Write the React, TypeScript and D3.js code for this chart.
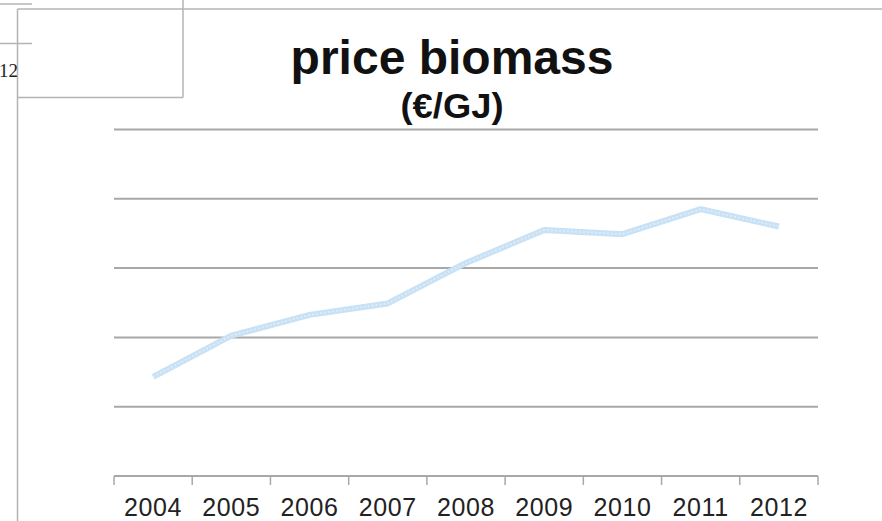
import React, { useRef, useEffect } from 'react';
import * as d3 from 'd3';

const years = ['2004', '2005', '2006', '2007', '2008', '2009', '2010', '2011', '2012'];
const prices = [2.86, 4.05, 4.65, 4.98, 6.15, 7.1, 6.98, 7.7, 7.2];
const gridTicks = [2, 4, 6, 8, 10];

const width = 882;
const height = 521;

function drawChart(svgEl: SVGSVGElement) {
  const svg = d3.select(svgEl);
  svg.selectAll('*').remove();

  const margin = { top: 129.5, right: 64, bottom: 45, left: 114 };

  const xScale = d3
    .scaleBand<string>()
    .domain(years)
    .range([margin.left, width - margin.right])
    .padding(0);
  const yScale = d3
    .scaleLinear()
    .domain([0, 10])
    .range([height - margin.bottom, margin.top]);

  // slide frame leftovers
  const frame = svg.append('g').attr('fill', 'none').attr('stroke', '#b4b4b4').attr('stroke-width', 1.5);
  frame.append('line').attr('x1', 0).attr('x2', 32).attr('y1', 4).attr('y2', 4);
  frame.append('line').attr('x1', 0).attr('x2', 32).attr('y1', 43.5).attr('y2', 43.5);
  frame.append('line').attr('x1', 17.5).attr('x2', width).attr('y1', 9).attr('y2', 9);
  frame.append('line').attr('x1', 17.5).attr('x2', 17.5).attr('y1', 9).attr('y2', height);
  frame.append('line').attr('x1', 183).attr('x2', 183).attr('y1', 0).attr('y2', 97.5);
  frame.append('line').attr('x1', 17.5).attr('x2', 183).attr('y1', 97.5).attr('y2', 97.5);
  svg
    .append('text')
    .attr('x', -1)
    .attr('y', 77)
    .attr('font-family', '"Liberation Serif", "DejaVu Serif", serif')
    .attr('font-size', 19)
    .attr('fill', '#222')
    .text('12');

  // title
  svg
    .append('text')
    .attr('x', 452)
    .attr('y', 74)
    .attr('text-anchor', 'middle')
    .attr('font-family', '"Liberation Sans", Arial, sans-serif')
    .attr('font-weight', 'bold')
    .attr('font-size', 48)
    .attr('fill', '#111')
    .text('price biomass');
  svg
    .append('text')
    .attr('x', 452)
    .attr('y', 118)
    .attr('text-anchor', 'middle')
    .attr('font-family', '"Liberation Sans", Arial, sans-serif')
    .attr('font-weight', 'bold')
    .attr('font-size', 35)
    .attr('textLength', 103)
    .attr('lengthAdjust', 'spacingAndGlyphs')
    .attr('fill', '#111')
    .text('(€/GJ)');

  // gridlines
  svg
    .append('g')
    .selectAll('line')
    .data(gridTicks)
    .join('line')
    .attr('x1', margin.left)
    .attr('x2', width - margin.right)
    .attr('y1', d => yScale(d))
    .attr('y2', d => yScale(d))
    .attr('stroke', '#a8a8a8')
    .attr('stroke-width', 2);

  // x axis
  const y0 = yScale(0);
  const axis = svg.append('g');
  axis
    .append('line')
    .attr('x1', margin.left)
    .attr('x2', width - margin.right)
    .attr('y1', y0)
    .attr('y2', y0)
    .attr('stroke', '#a8a8a8')
    .attr('stroke-width', 2);
  const edges = years.map(d => xScale(d) as number).concat([width - margin.right]);
  axis
    .selectAll('line.tick')
    .data(edges)
    .join('line')
    .attr('class', 'tick')
    .attr('x1', d => d)
    .attr('x2', d => d)
    .attr('y1', y0)
    .attr('y2', y0 + 9)
    .attr('stroke', '#a8a8a8')
    .attr('stroke-width', 1.5);
  axis
    .selectAll('text')
    .data(years)
    .join('text')
    .attr('x', d => (xScale(d) as number) + xScale.bandwidth() / 2)
    .attr('y', 516)
    .attr('text-anchor', 'middle')
    .attr('font-family', '"Liberation Sans", Arial, sans-serif')
    .attr('font-size', 25)
    .attr('letter-spacing', 0.6)
    .attr('fill', '#222')
    .text(d => d);

  // price line
  const line = d3
    .line<number>()
    .x((d, i) => (xScale(years[i]) as number) + xScale.bandwidth() / 2)
    .y(d => yScale(d));
  svg
    .append('path')
    .datum(prices)
    .attr('d', line)
    .attr('fill', 'none')
    .attr('stroke', '#c8e1f5')
    .attr('stroke-width', 6)
    .attr('stroke-linejoin', 'round');
  svg
    .append('path')
    .datum(prices)
    .attr('d', line)
    .attr('fill', 'none')
    .attr('stroke', '#dcecf9')
    .attr('stroke-width', 2)
    .attr('stroke-dasharray', '2 2')
    .attr('stroke-linejoin', 'round');
}

export default function App() {
  const ref = useRef<SVGSVGElement>(null);

  useEffect(() => {
    if (ref.current) {
      drawChart(ref.current);
    }
  }, []);

  return (
    <svg
      ref={ref}
      width={width}
      height={height}
      style={{ position: 'absolute', left: 0, top: 0, background: '#fff' }}
    />
  );
}
